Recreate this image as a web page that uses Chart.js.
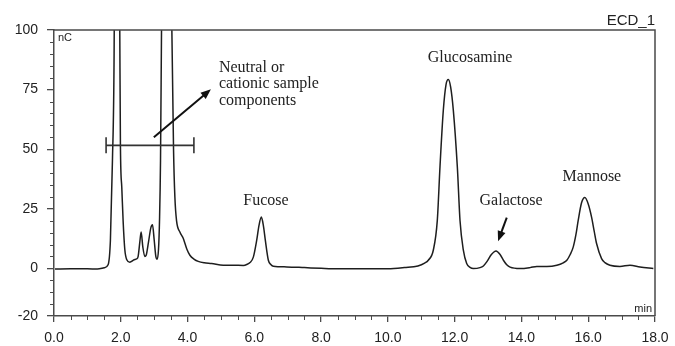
<!DOCTYPE html>
<html>
<head>
<meta charset="utf-8">
<script src="https://cdn.jsdelivr.net/npm/chart.js@4.4.0/dist/chart.umd.min.js"></script>
<style>
  html, body { margin: 0; padding: 0; background: #fff; }
  #wrap { width: 675px; height: 346px; }
</style>
</head>
<body>
<div id="wrap"><canvas id="myChart"></canvas></div>
<script>
'use strict';

// retention time (min) and detector signal (nC)
const time = [
  0.03, 0.5, 1.0, 1.3, 1.5, 1.62, 1.69, 1.75, 1.80, 1.88, 1.97, 1.99, 2.03, 2.07, 2.12,
  2.18, 2.27, 2.40, 2.48, 2.52, 2.57, 2.61, 2.66, 2.72, 2.76, 2.83, 2.90, 2.95, 3.00, 3.05,
  3.09, 3.13, 3.16, 3.19, 3.22, 3.37, 3.53, 3.58, 3.62, 3.67, 3.77, 3.87, 3.92, 3.98,
  4.07, 4.20, 4.32, 4.50, 4.72, 5.07, 5.37, 5.67, 5.80, 5.87, 5.97, 6.07, 6.14, 6.21,
  6.27, 6.33, 6.42, 6.50, 6.57, 6.97, 7.50, 8.00, 8.50, 9.00, 9.50, 10.00, 10.50, 10.90,
  11.10, 11.21, 11.36, 11.48, 11.56, 11.66, 11.74, 11.81, 11.88, 11.96, 12.08, 12.16,
  12.26, 12.36, 12.46, 12.56, 12.76, 12.86, 12.96, 13.10, 13.24, 13.36, 13.46, 13.56,
  13.66, 13.96, 14.26, 14.46, 14.76, 15.06, 15.25, 15.36, 15.46, 15.55, 15.63, 15.70,
  15.80, 15.90, 16.00, 16.10, 16.18, 16.25, 16.40, 16.50, 16.65, 16.95, 17.25, 17.55, 17.95
];
const signal = [
  -0.3, -0.2, -0.2, -0.3, 0.2, 1.5, 12, 45, 90, 350, 100, 51, 34, 20, 8,
  3.6, 2.6, 3.6, 4.0, 5.0, 11, 15.2, 9, 5, 5.5, 11, 17, 18.3, 12, 5,
  3.8, 8, 20, 45, 100, 350, 100, 50, 30, 20, 15.2, 12.6, 10.5, 8,
  5.5, 3.8, 2.9, 2.3, 2.0, 1.3, 1.3, 1.2, 1.8, 2.4, 4.7, 11.7, 18, 21.5,
  18, 11.7, 3.4, 1.5, 0.9, 0.6, 0.3, 0, -0.2, -0.2, -0.2, -0.2, 0.3, 1.0,
  2.2, 3.4, 7.6, 20.1, 42.5, 66.3, 77, 79.2, 76, 66.3, 42.5, 20.1,
  7.6, 2.0, 0.4, -0.1, 0.3, 1.0, 2.7, 5.8, 7.3, 5.8, 3.4, 1.5,
  0.5, -0.1, 0.3, 0.8, 0.8, 1.3, 2.3, 3.4, 5.8, 8.9, 14, 20.1,
  27.5, 29.7, 27, 21.5, 15.5, 10.4, 4.1, 2.4, 1.3, 0.8, 1.3, 0.6, -0.1
];

const xTicks = [0, 2, 4, 6, 8, 10, 12, 14, 16, 18];
const yTicks = [-20, 0, 25, 50, 75, 100];
const peakNames = ['Fucose', 'Glucosamine', 'Galactose', 'Mannose'];
const groupNote = ['Neutral or', 'cationic sample', 'components'];

const axisColor = '#4a4a4a';
const inkColor = '#1e1e1e';

const annotations = {
  id: 'annotations',
  afterDatasetsDraw(chart) {
    const { ctx, chartArea: area, scales: { x, y } } = chart;
    const px = v => x.getPixelForValue(v);
    const py = v => y.getPixelForValue(v);
    ctx.save();

    // frame on top and right
    ctx.strokeStyle = axisColor;
    ctx.lineWidth = 1.5;
    ctx.beginPath();
    ctx.moveTo(area.left, area.top);
    ctx.lineTo(area.right, area.top);
    ctx.lineTo(area.right, area.bottom);
    ctx.stroke();

    // minor ticks
    ctx.lineWidth = 1;
    ctx.beginPath();
    for (let v = -20; v <= 100; v += 5) {
      if (yTicks.includes(v)) continue;
      ctx.moveTo(area.left - 4, Math.round(py(v)) + 0.5);
      ctx.lineTo(area.left, Math.round(py(v)) + 0.5);
    }
    for (let v = 0; v <= 18; v += 0.5) {
      if (xTicks.includes(v)) continue;
      ctx.moveTo(Math.round(px(v)) + 0.5, area.bottom);
      ctx.lineTo(Math.round(px(v)) + 0.5, area.bottom + 4);
    }
    ctx.stroke();

    // unit labels
    ctx.fillStyle = '#222';
    ctx.font = '11px "Liberation Sans", Arial, sans-serif';
    ctx.textBaseline = 'alphabetic';
    ctx.textAlign = 'left';
    ctx.fillText('nC', area.left + 4, area.top + 11);
    ctx.textAlign = 'right';
    ctx.fillText('min', area.right - 3, area.bottom - 4);
    ctx.font = '15px "Liberation Sans", Arial, sans-serif';
    ctx.fillText('ECD_1', area.right, area.top - 5);

    // peak names
    ctx.font = '16px "Liberation Serif", "Times New Roman", serif';
    ctx.textAlign = 'center';
    ctx.textBaseline = 'middle';
    const namePos = [[6.35, 28.2], [12.46, 88.5], [13.69, 28.2], [16.11, 38.2]];
    peakNames.forEach((name, i) => {
      ctx.fillText(name, px(namePos[i][0]), py(namePos[i][1]));
    });

    ctx.textAlign = 'left';
    ctx.textBaseline = 'alphabetic';
    groupNote.forEach((line, i) => {
      ctx.fillText(line, px(4.94), py(82.5) + i * 16.5);
    });

    // span bar for the unretained region
    ctx.strokeStyle = '#333';
    ctx.lineWidth = 1.6;
    const barY = py(51.6);
    ctx.beginPath();
    ctx.moveTo(px(1.56), barY);
    ctx.lineTo(px(4.19), barY);
    ctx.moveTo(px(1.56), barY - 8);
    ctx.lineTo(px(1.56), barY + 8);
    ctx.moveTo(px(4.19), barY - 8);
    ctx.lineTo(px(4.19), barY + 8);
    ctx.stroke();

    function arrow(x0, y0, x1, y1) {
      const a = Math.atan2(y1 - y0, x1 - x0);
      const len = 11, half = 0.38;
      ctx.strokeStyle = '#111';
      ctx.fillStyle = '#111';
      ctx.lineWidth = 2;
      ctx.beginPath();
      ctx.moveTo(x0, y0);
      ctx.lineTo(x1 - Math.cos(a) * len * 0.8, y1 - Math.sin(a) * len * 0.8);
      ctx.stroke();
      ctx.beginPath();
      ctx.moveTo(x1, y1);
      ctx.lineTo(x1 - len * Math.cos(a - half), y1 - len * Math.sin(a - half));
      ctx.lineTo(x1 - len * Math.cos(a + half), y1 - len * Math.sin(a + half));
      ctx.closePath();
      ctx.fill();
    }
    arrow(px(2.99), py(55), px(4.70), py(75.1));
    arrow(px(13.56), py(21.3), px(13.30), py(11.4));

    ctx.restore();
  }
};

const points = time.map((t, i) => ({ x: t, y: signal[i] }));

new Chart(document.getElementById('myChart'), {
  type: 'line',
  data: {
    datasets: [
      {
        label: 'ECD_1',
        data: points,
        borderColor: inkColor,
        borderWidth: 1.5,
        pointRadius: 0,
        cubicInterpolationMode: 'monotone',
        fill: false,
      },
    ],
  },
  options: {
    responsive: true,
    maintainAspectRatio: false,
    animation: false,
    layout: { padding: { top: 30, right: 20, left: 0, bottom: 0 } },
    plugins: {
      legend: { display: false },
      tooltip: { enabled: false },
    },
    scales: {
      x: {
        type: 'linear',
        min: 0,
        max: 18,
        afterBuildTicks: s => { s.ticks = xTicks.map(v => ({ value: v })); },
        afterFit: s => { s.height = 30; },
        ticks: {
          callback: v => v.toFixed(1),
          color: '#222',
          font: { family: '"Liberation Sans", Arial, sans-serif', size: 14, lineHeight: 1.9 },
          padding: 3,
          maxRotation: 0,
          autoSkip: false,
        },
        grid: { drawOnChartArea: false, tickLength: 6, color: axisColor, lineWidth: 1.3 },
        border: { color: axisColor, width: 1.5 },
      },
      y: {
        type: 'linear',
        min: -20,
        max: 100,
        afterBuildTicks: s => { s.ticks = yTicks.map(v => ({ value: v })); },
        afterFit: s => { s.width = 54; },
        ticks: {
          color: '#222',
          font: { family: '"Liberation Sans", Arial, sans-serif', size: 14 },
          padding: 9,
        },
        grid: { drawOnChartArea: false, tickLength: 7, color: axisColor, lineWidth: 1.3 },
        border: { color: axisColor, width: 1.5 },
      },
    },
  },
  plugins: [annotations],
});
</script>
</body>
</html>
